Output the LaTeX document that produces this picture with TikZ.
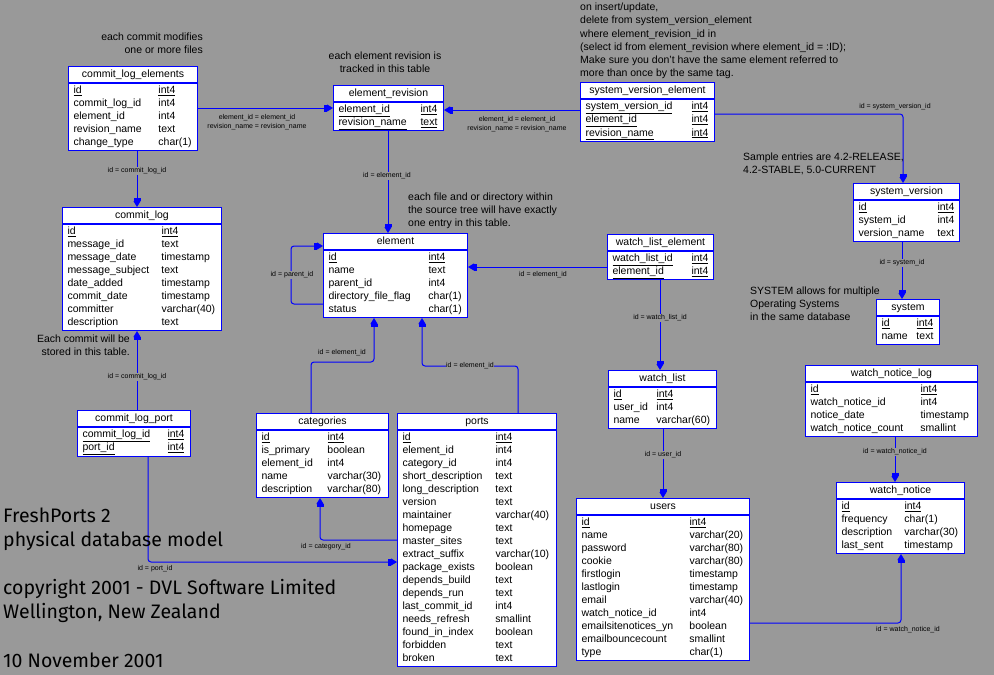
\documentclass[tikz,border=0pt]{standalone}
\usepackage{fontspec}
\setmainfont{Liberation Sans}
\newfontfamily\titlefont{Fira Sans}
\usetikzlibrary{arrows.meta}
\definecolor{bg}{RGB}{153,153,153}
\begin{document}
\begin{tikzpicture}
  [x=1pt,y=-1pt,
   head/.style={anchor=north west,draw=blue,fill=white,line width=1pt,inner sep=0pt,minimum height=16pt,text height=7pt,text depth=2pt,align=center,font=\fontsize{10.5}{13}\selectfont},
   body/.style={anchor=north west,draw=blue,fill=white,line width=1pt,inner xsep=5pt,inner ysep=1pt,align=left,font=\fontsize{10.5}{13}\selectfont},
   fk/.style={draw=blue,line width=1pt,rounded corners=3pt,-{Rectangle[length=3pt,width=7pt]Triangle[length=6pt,width=7pt]}},
   lbl/.style={fill=bg,inner sep=0.5pt,align=center,font=\fontsize{7}{9.5}\selectfont},
   note/.style={inner sep=0pt,font=\fontsize{10.5}{13}\selectfont}]
  \useasboundingbox (0,0) rectangle (994,675);
  \fill[bg] (0,0) rectangle (994,675);

  % tables
  \node[head,text width=129pt] (cle-h) at (68,66) {commit\_log\_elements};
  \node[body,text width=119pt] (cle) at (cle-h.south west) {\begin{tabular}{@{}p{85pt}@{}l@{}}
    \underline{id} & \underline{int4}\\ commit\_log\_id & int4\\ element\_id & int4\\ revision\_name & text\\ change\_type & char(1)\end{tabular}};

  \node[head,text width=159pt] (cl-h) at (62,207) {commit\_log};
  \node[body,text width=149pt] (cl) at (cl-h.south west) {\begin{tabular}{@{}p{94pt}@{}l@{}}
    \underline{id} & \underline{int4}\\ message\_id & text\\ message\_date & timestamp\\ message\_subject & text\\ date\_added & timestamp\\ commit\_date & timestamp\\ committer & varchar(40)\\ description & text\end{tabular}};

  \node[head,text width=110pt] (er-h) at (333,85) {element\_revision};
  \node[body,text width=100pt] (er) at (er-h.south west) {\begin{tabular}{@{}p{82pt}@{}l@{}}
    \underline{element\_id} & \underline{int4}\\ \underline{revision\_name} & \underline{text}\end{tabular}};

  \node[head,text width=134pt] (sve-h) at (580,82) {system\_version\_element};
  \node[body,text width=124pt] (sve) at (sve-h.south west) {\begin{tabular}{@{}p{106pt}@{}l@{}}
    \underline{system\_version\_id} & \underline{int4}\\ \underline{element\_id} & \underline{int4}\\ \underline{revision\_name} & \underline{int4}\end{tabular}};

  \node[head,text width=144pt] (el-h) at (323,233) {element};
  \node[body,text width=134pt] (el) at (el-h.south west) {\begin{tabular}{@{}p{100pt}@{}l@{}}
    \underline{id} & \underline{int4}\\ name & text\\ parent\_id & int4\\ directory\_file\_flag & char(1)\\ status & char(1)\end{tabular}};

  \node[head,text width=106pt] (wle-h) at (607,234) {watch\_list\_element};
  \node[body,text width=96pt] (wle) at (wle-h.south west) {\begin{tabular}{@{}p{79pt}@{}l@{}}
    \underline{watch\_list\_id} & \underline{int4}\\ \underline{element\_id} & \underline{int4}\end{tabular}};

  \node[head,text width=108pt] (wl-h) at (608,370) {watch\_list};
  \node[body,text width=98pt] (wl) at (wl-h.south west) {\begin{tabular}{@{}p{43pt}@{}l@{}}
    \underline{id} & \underline{int4}\\ user\_id & int4\\ name & varchar(60)\end{tabular}};

  \node[head,text width=173pt] (us-h) at (576,498) {users};
  \node[body,text width=163pt] (us) at (us-h.south west) {\begin{tabular}{@{}p{108pt}@{}l@{}}
    \underline{id} & \underline{int4}\\ name & varchar(20)\\ password & varchar(80)\\ cookie & varchar(80)\\ firstlogin & timestamp\\ lastlogin & timestamp\\ email & varchar(40)\\ watch\_notice\_id & int4\\ emailsitenotices\_yn & boolean\\ emailbouncecount & smallint\\ type & char(1)\end{tabular}};

  \node[head,text width=159pt] (ports-h) at (397,413) {ports};
  \node[body,text width=149pt] (ports) at (ports-h.south west) {\begin{tabular}{@{}p{93pt}@{}l@{}}
    \underline{id} & \underline{int4}\\ element\_id & int4\\ category\_id & int4\\ short\_description & text\\ long\_description & text\\ version & text\\ maintainer & varchar(40)\\ homepage & text\\ master\_sites & text\\ extract\_suffix & varchar(10)\\ package\_exists & boolean\\ depends\_build & text\\ depends\_run & text\\ last\_commit\_id & int4\\ needs\_refresh & smallint\\ found\_in\_index & boolean\\ forbidden & text\\ broken & text\end{tabular}};

  \node[head,text width=132pt] (cat-h) at (256,413) {categories};
  \node[body,text width=122pt] (cat) at (cat-h.south west) {\begin{tabular}{@{}p{66pt}@{}l@{}}
    \underline{id} & \underline{int4}\\ is\_primary & boolean\\ element\_id & int4\\ name & varchar(30)\\ description & varchar(80)\end{tabular}};

  \node[head,text width=113pt] (clp-h) at (77,410) {commit\_log\_port};
  \node[body,text width=103pt] (clp) at (clp-h.south west) {\begin{tabular}{@{}p{85pt}@{}l@{}}
    \underline{commit\_log\_id} & \underline{int4}\\ \underline{port\_id} & \underline{int4}\end{tabular}};

  \node[head,text width=106pt] (sv-h) at (853,183) {system\_version};
  \node[body,text width=96pt] (sv) at (sv-h.south west) {\begin{tabular}{@{}p{79pt}@{}l@{}}
    \underline{id} & \underline{int4}\\ system\_id & int4\\ version\_name & text\end{tabular}};

  \node[head,text width=63pt] (sys-h) at (876,299) {system};
  \node[body,text width=53pt] (sys) at (sys-h.south west) {\begin{tabular}{@{}p{35pt}@{}l@{}}
    \underline{id} & \underline{int4}\\ name & text\end{tabular}};

  \node[head,text width=172pt] (wnl-h) at (805,365) {watch\_notice\_log};
  \node[body,text width=162pt] (wnl) at (wnl-h.south west) {\begin{tabular}{@{}p{110pt}@{}l@{}}
    \underline{id} & \underline{int4}\\ watch\_notice\_id & int4\\ notice\_date & timestamp\\ watch\_notice\_count & smallint\end{tabular}};

  \node[head,text width=128pt] (wn-h) at (836,482) {watch\_notice};
  \node[body,text width=118pt] (wn) at (wn-h.south west) {\begin{tabular}{@{}p{63pt}@{}l@{}}
    \underline{id} & \underline{int4}\\ frequency & char(1)\\ description & varchar(30)\\ last\_sent & timestamp\end{tabular}};

  % relations
  \foreach \from/\a/\to/\b in {cle.south west/69/cl-h.north west/75,
      clp-h.north west/60/cl.south west/75, er.south west/55/el-h.north west/65,
      sv.south west/49/sys-h.north west/26, wle.south west/53/wl-h.north west/52,
      wl.south west/55/us-h.north west/87, wnl.south west/90/wn-h.north west/59}
    \draw[fk] ([xshift=\a pt]\from) -- ([xshift=\b pt]\to);
  \draw[fk] ([yshift=-42pt]cle-h.north east) -- ([yshift=-23pt]er-h.north west);
  \draw[fk] ([yshift=-28pt]sve-h.north west) -- ([yshift=-25pt]er-h.north east);
  \draw[fk] ([yshift=-33pt]wle-h.north west) -- ([yshift=-34pt]el-h.north east);
  \draw[fk] ([xshift=71pt]clp.south west) |- ([yshift=-149pt]ports-h.north west);
  \draw[fk] ([yshift=-127pt]ports-h.north west) -| ([xshift=64pt]cat.south west);
  \draw[fk] ([xshift=55pt]cat-h.north west) -- ++(0,-51) -| ([xshift=51pt]el.south west);
  \draw[fk] ([xshift=121pt]ports-h.north west) -- ++(0,-47) -| ([xshift=99pt]el.south west);
  \draw[fk] ([yshift=-71pt]el-h.north west) -- ++(-32,0) |- ([yshift=-13pt]el-h.north west);
  \draw[fk] ([yshift=-32pt]sve-h.north east) -| ([xshift=50pt]sv-h.north west);
  \draw[fk] ([yshift=-125pt]us-h.north east) -| ([xshift=65pt]wn.south west);

  \foreach \n/\x/\y/\t in {l-cle/257/122/{element\_id = element\_id\\revision\_name = revision\_name},
      l-cl/137/171/{id = commit\_log\_id}, l-clp/137/377/{id = commit\_log\_id},
      l-port/155/569/{id = port\_id}, l-cat/326/547/{id = category\_id},
      l-catel/342/353/{id = element\_id}, l-portsel/470/366/{id = element\_id},
      l-par/292/275/{id = parent\_id}, l-er/387/176/{id = element\_id},
      l-sve/517/124/{element\_id = element\_id\\revision\_name = revision\_name},
      l-sv/895/107/{id = system\_version\_id}, l-sys/902/263/{id = system\_id},
      l-wle/543/275/{id = element\_id}, l-wl/660/318/{id = watch\_list\_id},
      l-us/663/455/{id = user\_id}, l-wnl/895/452/{id = watch\_notice\_id},
      l-wn/908/630/{id = watch\_notice\_id}}
    \node[lbl] (\n) at (\x,\y) {\t};

  % notes
  \node[note,anchor=east,align=right] (n-cle) at (203,43.5) {each commit modifies\\one or more files};
  \node[note,align=center] (n-er) at (385,62.5) {each element revision is\\tracked in this table};
  \node[note,anchor=west,align=left,font=\fontsize{10.5}{13.2}\selectfont] (n-sve) at (580,41) {on insert/update,\\delete from system\_version\_element\\where element\_revision\_id in\\(select id from element\_revision where element\_id = :ID);\\Make sure you don't have the same element referred to\\more than once by the same tag.};
  \node[note,anchor=west,align=left] (n-el) at (408,211) {each file and or directory within\\the source tree will have exactly\\one entry in this table.};
  \node[note,anchor=east,align=right] (n-cl) at (130,345.5) {Each commit will be\\stored in this table.};
  \node[note,anchor=west,align=left] (n-sv) at (743,164) {Sample entries are 4.2-RELEASE,\\4.2-STABLE, 5.0-CURRENT};
  \node[note,anchor=west,align=left] (n-sys) at (750,304) {SYSTEM allows for multiple\\Operating Systems\\in the same database};

  \node[note,anchor=west,align=left,font=\titlefont\fontsize{19.5}{24}\selectfont] (title) at (3,529) {FreshPorts 2\\physical database model};
  \node[note,anchor=west,align=left,font=\titlefont\fontsize{19.5}{24}\selectfont] (copy) at (3,601) {copyright 2001 - DVL Software Limited\\Wellington, New Zealand};
  \node[note,anchor=west,align=left,font=\titlefont\fontsize{19.5}{24}\selectfont] (date) at (3,660) {10 November 2001};
\end{tikzpicture}
\end{document}
